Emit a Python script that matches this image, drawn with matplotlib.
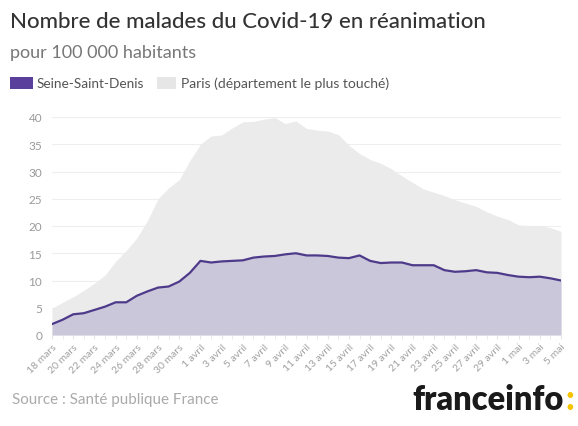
import matplotlib
matplotlib.use("Agg")
import matplotlib.pyplot as plt
import numpy as np
from matplotlib.patches import Rectangle

dates = ["18 mars", "19 mars", "20 mars", "21 mars", "22 mars", "23 mars", "24 mars",
         "25 mars", "26 mars", "27 mars", "28 mars", "29 mars", "30 mars", "31 mars",
         "1 avril", "2 avril", "3 avril", "4 avril", "5 avril", "6 avril", "7 avril",
         "8 avril", "9 avril", "10 avril", "11 avril", "12 avril", "13 avril", "14 avril",
         "15 avril", "16 avril", "17 avril", "18 avril", "19 avril", "20 avril", "21 avril",
         "22 avril", "23 avril", "24 avril", "25 avril", "26 avril", "27 avril", "28 avril",
         "29 avril", "30 avril", "1 mai", "2 mai", "3 mai", "4 mai", "5 mai"]

paris = [4.9, 6.0, 7.0, 8.2, 9.5, 11.0, 13.5, 15.5, 17.8, 21.0, 25.0, 27.0, 28.5, 32.0,
         35.0, 36.5, 36.7, 38.0, 39.1, 39.2, 39.6, 39.9, 38.8, 39.3, 37.9, 37.6, 37.4, 36.8,
         34.8, 33.3, 32.2, 31.5, 30.5, 29.2, 28.0, 26.8, 26.2, 25.6, 24.8, 24.2, 23.6, 22.6,
         21.8, 21.2, 20.2, 20.1, 20.1, 19.7, 19.0]

seine_saint_denis = [2.0, 2.8, 3.8, 4.0, 4.6, 5.2, 6.0, 6.0, 7.2, 8.0, 8.7, 8.9, 9.8, 11.4,
                     13.6, 13.3, 13.5, 13.6, 13.7, 14.2, 14.4, 14.5, 14.8, 15.0, 14.6, 14.6,
                     14.5, 14.2, 14.1, 14.6, 13.6, 13.2, 13.3, 13.3, 12.8, 12.8, 12.8, 11.9,
                     11.6, 11.7, 11.9, 11.5, 11.4, 11.0, 10.7, 10.6, 10.7, 10.4, 10.0]

yticks = [0, 5, 10, 15, 20, 25, 30, 35, 40]

title = "Nombre de malades du Covid-19 en réanimation"
subtitle = "pour 100 000 habitants"
legend_labels = ["Seine-Saint-Denis", "Paris (département le plus touché)"]
source = "Source : Santé publique France"

FONT = "Lato"
c_paris = "#ebebeb"
c_ssd_fill = "#cbc7da"
c_ssd_line = "#4e3a8a"
c_legend_ssd = "#5b3f9c"

fig = plt.figure(figsize=(5.78, 4.27), dpi=100)
fig.patch.set_facecolor("white")

ax = fig.add_axes([52/578, 1-336/427, (561-52)/578, (336-118)/427])
x = np.arange(len(dates))
ax.fill_between(x, 0, paris, color=c_paris, linewidth=0, zorder=1)
ax.fill_between(x, 0, seine_saint_denis, color=c_ssd_fill, linewidth=0, zorder=2)
ax.plot(x, seine_saint_denis, color=c_ssd_line, linewidth=1.6, zorder=3,
        solid_joinstyle="round")

ax.set_xlim(0, len(dates)-1)
ax.set_ylim(0, 40)
ax.set_yticks(yticks)
ax.set_yticklabels([str(v) for v in yticks], fontsize=8.5, color="#9a9a9a", family=FONT)
ax.yaxis.grid(True, color="#eeeeee", linewidth=0.8, zorder=0)
ax.set_axisbelow(True)
ax.tick_params(axis="y", length=0, pad=7)

ax.set_xticks(x[::2])
ax.set_xticklabels(dates[::2], rotation=45, ha="right", va="top",
                   rotation_mode="anchor", fontsize=7.5, color="#a0a0a0", family=FONT)
ax.set_xticks(x, minor=True)
ax.tick_params(axis="x", which="both", length=3, color="#e6e6e6", pad=2)
for s in ax.spines.values():
    s.set_visible(False)

fig.text(10/578, 1-22/427, title, fontsize=16, color="#333333", family=FONT,
         va="center", ha="left", fontweight="medium")
fig.text(10/578, 1-53/427, subtitle, fontsize=13, color="#777777", family=FONT,
         va="center", ha="left")

# legend
fig.patches.append(Rectangle((10/578, 1-90/427), 23/578, 12/427, transform=fig.transFigure,
                             facecolor=c_legend_ssd, edgecolor="none"))
fig.text(37/578, 1-84/427, legend_labels[0], fontsize=9.8, color="#555555", family=FONT,
         va="center", ha="left")
fig.patches.append(Rectangle((157/578, 1-90/427), 19/578, 12/427, transform=fig.transFigure,
                             facecolor="#e6e6e6", edgecolor="none"))
fig.text(181/578, 1-84/427, legend_labels[1], fontsize=10, color="#555555", family=FONT,
         va="center", ha="left")

fig.text(12/578, 1-400/427, source, fontsize=10.9, color="#aaaaaa", family=FONT,
         va="center", ha="left")

t = fig.text(412/578, 1-400/427, "franceinfo", fontsize=23.5, color="#1a1a1a", family=FONT,
             va="center", ha="left", fontweight="heavy")
fig.canvas.draw()
bb = t.get_window_extent(renderer=fig.canvas.get_renderer())
fig.text(bb.x1/578 + 2/578, 1-400/427, ":", fontsize=23.5, color="#f5c400", family=FONT,
         va="center", ha="left", fontweight="heavy")

fig.savefig("out.png", dpi=100, facecolor="white")
